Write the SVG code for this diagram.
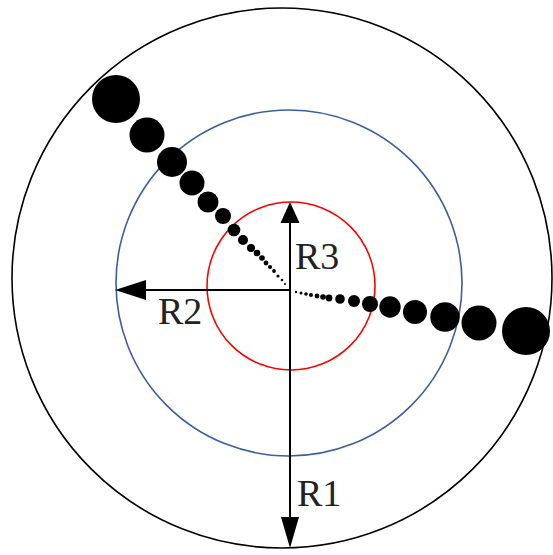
<svg xmlns="http://www.w3.org/2000/svg" width="553" height="555" viewBox="0 0 553 555">
<style>
.ring{fill:none;stroke-width:1.6}
.dot{fill:#000}
.ax{stroke:#000;stroke-width:2;fill:none}
.ah{fill:#000}
.lbl{font-family:"Liberation Serif","Times New Roman",serif;font-size:38px;fill:#222}
</style>
<rect width="553" height="555" fill="#fff"/>
<g id="outer-circle"><circle class="ring" cx="282" cy="278" r="270" stroke="#000"/></g>
<g id="blue-circle"><circle class="ring" cx="289" cy="283" r="173" stroke="#3a5fa0"/></g>
<g id="red-circle"><circle class="ring" cx="291" cy="286" r="84" stroke="#ff0000"/></g>
<g id="chain-upper-left" class="dot">
<circle cx="116" cy="99" r="24"/>
<circle cx="147" cy="135" r="17.5"/>
<circle cx="172" cy="162" r="15"/>
<circle cx="192" cy="183" r="12.5"/>
<circle cx="208" cy="202" r="10.5"/>
<circle cx="223" cy="216" r="8"/>
<circle cx="234" cy="230" r="6.3"/>
<circle cx="243" cy="240" r="5"/>
<circle cx="251" cy="248" r="4"/>
<circle cx="257" cy="253" r="3.3"/>
<circle cx="262" cy="258" r="2.8"/>
<circle cx="266" cy="263" r="2.4"/>
<circle cx="270" cy="267" r="2.1"/>
<circle cx="274" cy="271" r="1.9"/>
<circle cx="278" cy="276" r="1.6"/>
<circle cx="282" cy="280" r="1.3"/>
<circle cx="285" cy="284" r="1"/>
</g>
<g id="chain-right" class="dot">
<circle cx="526" cy="331" r="24"/>
<circle cx="479" cy="323" r="17.5"/>
<circle cx="445" cy="317" r="14.7"/>
<circle cx="415" cy="312" r="12"/>
<circle cx="390" cy="307" r="10.7"/>
<circle cx="370" cy="304" r="8"/>
<circle cx="354" cy="301" r="6"/>
<circle cx="340" cy="299" r="4.8"/>
<circle cx="329" cy="298" r="3.4"/>
<circle cx="323" cy="297" r="2.8"/>
<circle cx="317" cy="296" r="2.4"/>
<circle cx="311" cy="295" r="2"/>
<circle cx="306" cy="294" r="1.8"/>
<circle cx="301" cy="293" r="1.5"/>
<circle cx="296" cy="292" r="1.2"/>
</g>
<g id="connectors">
<line class="ax" x1="290" y1="215" x2="290" y2="530"/>
<line class="ax" x1="290" y1="290" x2="130" y2="290"/>
<polygon class="ah" points="290,202 299.5,223 280.5,223"/>
<polygon class="ah" points="290,548 299,517 281,517"/>
<polygon class="ah" points="115,290 146,280 146,300"/>
</g>
<g id="labels">
<text class="lbl" x="295" y="269">R3</text>
<text class="lbl" x="158" y="324">R2</text>
<text class="lbl" x="297" y="506">R1</text>
</g>
</svg>
